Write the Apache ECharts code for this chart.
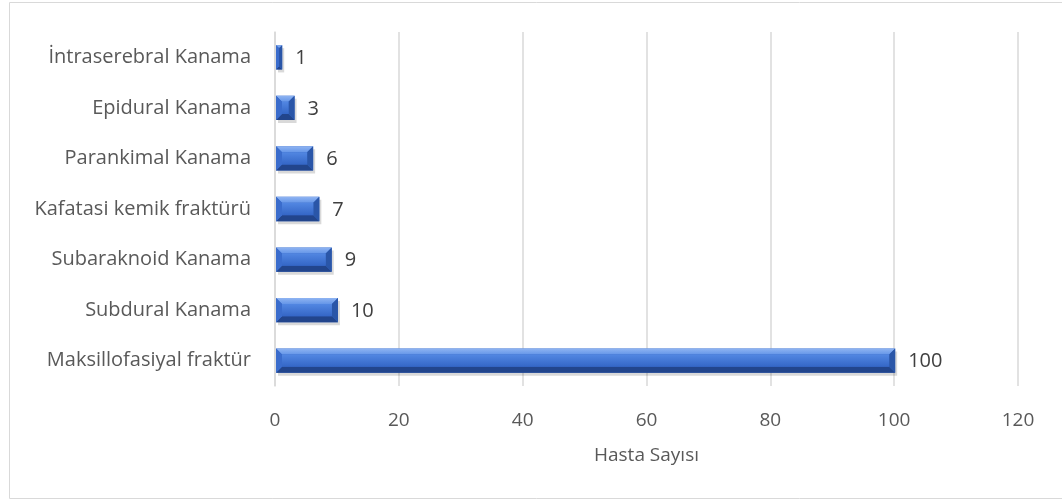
<!DOCTYPE html>
<html><head><meta charset="utf-8">
<script src="https://cdn.jsdelivr.net/npm/echarts@6/dist/echarts.min.js"></script>
<style>html,body{margin:0;padding:0;background:#fff}#c{width:1062px;height:501px}</style>
</head><body><div id="c"></div>
<script>
const categories = ['İntraserebral Kanama','Epidural Kanama','Parankimal Kanama','Kafatasi kemik fraktürü','Subaraknoid Kanama','Subdural Kanama','Maksillofasiyal fraktür'];
const values = [1,3,6,7,9,10,100];
const xTicks = {min:0, max:120, interval:20};
const axisName = 'Hasta Sayısı';

const chart = echarts.init(document.getElementById('c'));
const font = 'Open Sans';
chart.setOption({
  animation:false,
  graphic:[{type:'rect',shape:{x:9.5,y:2.5,width:1060,height:496},style:{fill:'none',stroke:'#d9d9d9',lineWidth:1},silent:true}],
  grid:{left:275,right:44,top:32,bottom:115},
  xAxis:{type:'value',min:xTicks.min,max:xTicks.max,interval:xTicks.interval,
    name:axisName,nameLocation:'middle',nameGap:60,
    nameTextStyle:{color:'#595959',fontSize:19,fontFamily:font},
    axisLine:{show:false},axisTick:{show:false},
    axisLabel:{color:'#595959',fontSize:19,fontFamily:font,margin:25},
    splitLine:{lineStyle:{color:'#d9d9d9',width:1.5}}},
  yAxis:{type:'category',data:categories,inverse:true,
    axisLine:{show:true,lineStyle:{color:'#d9d9d9',width:1.5}},axisTick:{show:false},
    axisLabel:{color:'#595959',fontSize:20,fontFamily:font,margin:24}},
  series:[{type:'custom',data:values.map((v,i)=>[v,i]),encode:{x:0,y:1},
    renderItem:function(params,api){
      const v=api.value(0), i=api.value(1);
      const p0=api.coord([0,i]), p1=api.coord([v,i]);
      const h=api.size([0,1])[1]*0.48;
      const x0=p0[0]+1, x1=p1[0]+1, yt=p0[1]-h/2, yb=p0[1]+h/2;
      const w=x1-x0;
      const b=Math.min(6,w/2,h/2);
      const children=[
        {type:'rect',shape:{x:x0+2,y:yt+3,width:w,height:h},style:{fill:'rgba(0,0,0,0.15)'},z2:0},
        {type:'rect',shape:{x:x0,y:yt,width:w,height:h},style:{fill:'#3466c4'},z2:1},
        {type:'polygon',shape:{points:[[x0,yt],[x1,yt],[x1-b,yt+b],[x0+b,yt+b]]},style:{fill:new echarts.graphic.LinearGradient(0,0,0,1,[{offset:0,color:'#8fb4f2'},{offset:1,color:'#6596e8'}])},z2:2},
        {type:'polygon',shape:{points:[[x0,yb],[x1,yb],[x1-b,yb-b],[x0+b,yb-b]]},style:{fill:'#22458c'},z2:2},
        {type:'polygon',shape:{points:[[x0,yt],[x0+b,yt+b],[x0+b,yb-b],[x0,yb]]},style:{fill:'#3a6ccc'},z2:2},
        {type:'polygon',shape:{points:[[x1,yt],[x1-b,yt+b],[x1-b,yb-b],[x1,yb]]},style:{fill:'#2a56a8'},z2:2},
        {type:'rect',shape:{x:x0+b,y:yt+b,width:Math.max(0,w-2*b),height:h-2*b},style:{fill:new echarts.graphic.LinearGradient(0,0,0,1,[{offset:0,color:'#5287e2'},{offset:1,color:'#3466c6'}])},z2:3},
        {type:'text',style:{text:String(v),x:x1+13,y:p0[1]+1,verticalAlign:'middle',align:'left',fill:'#404040',fontSize:20,fontFamily:font},z2:4}
      ];
      return {type:'group',children:children};
    }}]
});
</script></body></html>
